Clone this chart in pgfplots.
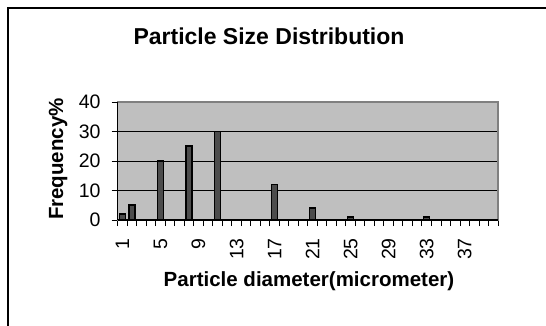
\documentclass[border=0pt]{standalone}
\usepackage{fontspec}
\setmainfont{Liberation Sans}
\usepackage{pgfplots}
\pgfplotsset{compat=1.18}
\begin{document}
\begin{tikzpicture}[x=1pt,y=1pt]
\path[use as bounding box] (0,0) rectangle (546,325);
\draw[line width=1.2pt, black] (8,-20) -- (8,317) -- (570,317);
\begin{axis}[
  at={(117.7pt,105pt)}, anchor=south west,
  scale only axis, width=380.3pt, height=118pt,
  xmin=0.5, xmax=40.5, ymin=0, ymax=40,
  ybar, bar width=6pt,
  axis background/.style={fill=black!25},
  axis line style={draw=black!50, line width=1.3pt},
  xtick={1,5,9,13,17,21,25,29,33,37},
  minor xtick={0.5,1.5,...,40.5},
  major x tick style={draw=none},
  minor x tick style={draw=black, line width=0.9pt},
  minor tick length=6pt,
  ytick={0,10,20,30,40},
  major tick length=6pt,
  ytick style={draw=black, line width=0.9pt},
  tick align=outside, tick pos=left,
  ymajorgrids, major grid style={black, line width=0.8pt},
  /pgf/number format/assume math mode=true,
  xticklabel style={rotate=90, anchor=east, inner ysep=0pt, inner xsep=12pt, font=\fontsize{19.5}{20}\selectfont},
  yticklabel style={anchor=east, inner ysep=0pt, inner xsep=11pt, font=\fontsize{19.5}{20}\selectfont},
  clip=false,
]
\addplot[draw=black, line width=1.6pt, fill=black!70] coordinates {
 (1,2) (2,5) (5,20) (8,25) (11,30) (17,12) (21,4) (25,1) (33,1)
};
\draw[black, line width=1.3pt] (axis cs:0.5,0) -- (axis cs:40.5,0);
\draw[black, line width=1.3pt] (axis cs:0.5,0) -- (axis cs:0.5,40);
\end{axis}
\node[anchor=base, font=\fontsize{23}{25}\selectfont\bfseries] at (269,281) {Particle Size Distribution};
\node[anchor=base, rotate=90, font=\fontsize{20.5}{22}\selectfont\bfseries] at (63,166) {Frequency\%};
\node[anchor=base, font=\fontsize{20.5}{22}\selectfont\bfseries] at (309,38.5) {Particle diameter(micrometer)};
\end{tikzpicture}
\end{document}
